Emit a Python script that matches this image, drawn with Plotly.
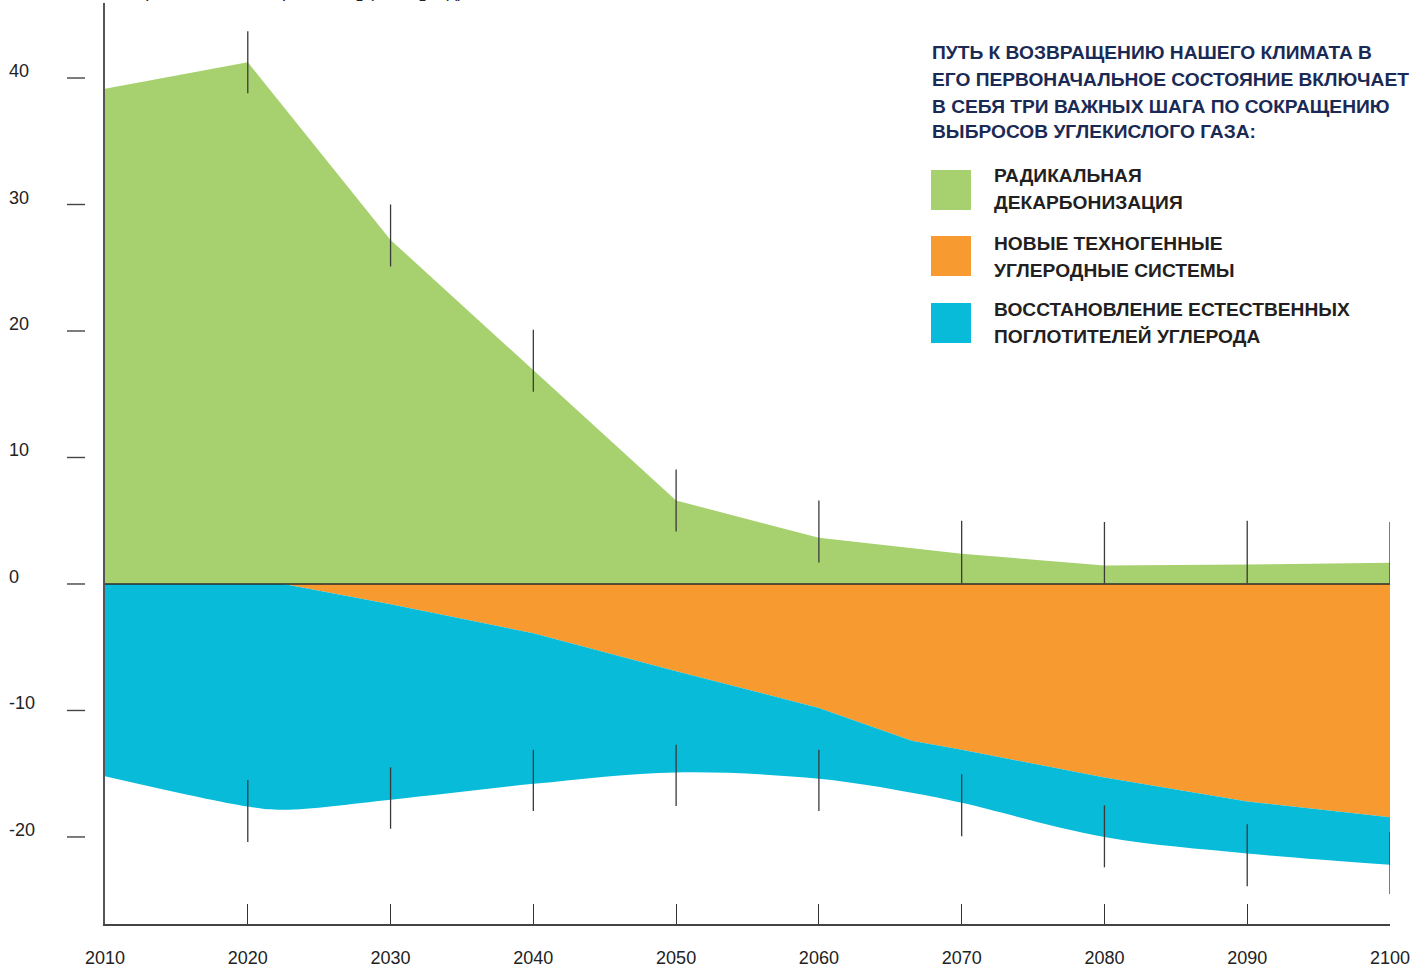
import plotly.graph_objects as go

# ---------------- data ----------------
years = [2010, 2020, 2030, 2040, 2050, 2060, 2070, 2080, 2090, 2100]
decarbonization = [39.15, 41.25, 27.2, 16.9, 6.6, 3.65, 2.4, 1.46, 1.54, 1.68]

sink_years = [2010, 2020, 2022.5, 2030, 2040, 2050, 2060, 2066.5, 2070, 2080, 2090, 2100]
tech_sinks = [0, 0, 0, 1.6, 3.9, 6.9, 9.8, 12.4, 13.1, 15.3, 17.2, 18.45]
natural_sinks = [15.2, 17.6, 17.85, 15.45, 11.9, 8.0, 5.6, 4.1, 4.2, 4.7, 4.1, 3.75]

range_years = [2020, 2030, 2040, 2050, 2060, 2070, 2080, 2090, 2100]
green_range_low = [38.8, 25.1, 15.2, 4.15, 1.7, 0.05, 0.05, 0.05, 0.05]
green_range_high = [43.7, 30.0, 20.1, 9.05, 6.6, 5.0, 4.9, 5.0, 4.9]
blue_range_high = [-15.5, -14.5, -13.1, -12.7, -13.1, -15.05, -17.5, -19.0, -19.6]
blue_range_low = [-20.4, -19.35, -17.95, -17.55, -17.95, -19.95, -22.4, -23.9, -24.5]

y_ticks = [-20, -10, 0, 10, 20, 30, 40]
x_tick_labels = [str(y) for y in years]

title_lines = [
    "ПУТЬ К ВОЗВРАЩЕНИЮ НАШЕГО КЛИМАТА В",
    "ЕГО ПЕРВОНАЧАЛЬНОЕ СОСТОЯНИЕ ВКЛЮЧАЕТ",
    "В СЕБЯ ТРИ ВАЖНЫХ ШАГА ПО СОКРАЩЕНИЮ",
    "ВЫБРОСОВ УГЛЕКИСЛОГО ГАЗА:",
]
legend_items = [
    ("РАДИКАЛЬНАЯ", "ДЕКАРБОНИЗАЦИЯ"),
    ("НОВЫЕ ТЕХНОГЕННЫЕ", "УГЛЕРОДНЫЕ СИСТЕМЫ"),
    ("ВОССТАНОВЛЕНИЕ ЕСТЕСТВЕННЫХ", "ПОГЛОТИТЕЛЕЙ УГЛЕРОДА"),
]

GREEN = "#A7D16E"
ORANGE = "#F79A2F"
BLUE = "#07BBD9"
NAVY = "#1B2A55"
DARK = "#231F20"
FONT = "Liberation Sans, Arial, sans-serif"

# ---------------- layout geometry ----------------
W, H = 1415, 965
ML, MR, MT, MB = 105, 25, 3, 41
PW, PH = W - ML - MR, H - MT - MB


def px(x):
    return (x - ML) / PW


def py(y):
    return (H - MB - y) / PH


tech_lower = [-v for v in tech_sinks]
natural_lower = [a - b for a, b in zip(tech_lower, natural_sinks)]

fig = go.Figure()
fig.add_trace(go.Scatter(x=years, y=decarbonization, mode="lines", fill="tozeroy",
                         fillcolor=GREEN, line=dict(width=0, color=GREEN),
                         hoverinfo="skip", showlegend=False))
fig.add_trace(go.Scatter(x=sink_years, y=tech_lower, mode="lines", fill="tozeroy",
                         fillcolor=ORANGE, line=dict(width=0, color=ORANGE),
                         hoverinfo="skip", showlegend=False))
fig.add_trace(go.Scatter(x=sink_years, y=natural_lower, mode="lines", fill="tonexty",
                         fillcolor=BLUE, line=dict(width=0, color=BLUE, shape="spline", smoothing=1.0),
                         hoverinfo="skip", showlegend=False))

# range markers
mx, my = [], []
for yr, lo, hi in zip(range_years, green_range_low, green_range_high):
    mx += [yr, yr, None]
    my += [lo, hi, None]
for yr, lo, hi in zip(range_years, blue_range_low, blue_range_high):
    mx += [yr, yr, None]
    my += [lo, hi, None]
fig.add_trace(go.Scatter(x=mx, y=my, mode="lines", line=dict(color="#3a3a3a", width=1.3),
                         hoverinfo="skip", showlegend=False, cliponaxis=False))

shapes = []
# zero line
shapes.append(dict(type="line", xref="x domain", yref="y", x0=0, x1=1, y0=0, y1=0,
                   line=dict(color="#2b2b2b", width=1.6)))
# detached y tick marks
for v in y_ticks:
    shapes.append(dict(type="line", xref="paper", yref="y", x0=px(67), x1=px(85), y0=v, y1=v,
                       line=dict(color="#444", width=1.4)))
# legend swatches
for (top, col) in zip([170, 236, 303], [GREEN, ORANGE, BLUE]):
    shapes.append(dict(type="rect", xref="paper", yref="paper", x0=px(931), x1=px(971),
                       y0=py(top + 40), y1=py(top), fillcolor=col, line=dict(width=0)))

annotations = []
for v in y_ticks:
    annotations.append(dict(xref="paper", yref="y", x=px(7), y=v, yshift=7, text=str(v),
                            xanchor="left", yanchor="middle", showarrow=False,
                            font=dict(family=FONT, size=18, color="#222")))
for line, yc in zip(title_lines, [52, 79, 106, 132]):
    annotations.append(dict(xref="paper", yref="paper", x=px(930), y=py(yc), text="<b>%s</b>" % line,
                            xanchor="left", yanchor="middle", showarrow=False,
                            font=dict(family=FONT, size=19.2, color=NAVY)))
for (l1, l2), (y1, y2) in zip(legend_items, [(176, 202), (243, 270), (309, 336)]):
    for t, yc in ((l1, y1), (l2, y2)):
        annotations.append(dict(xref="paper", yref="paper", x=px(992), y=py(yc), text="<b>%s</b>" % t,
                                xanchor="left", yanchor="middle", showarrow=False,
                                font=dict(family=FONT, size=19.2, color=DARK)))
# cut-off axis title at the very top
annotations.append(dict(xref="paper", yref="paper", x=px(8), y=py(6),
                        text="Глобальные антропогенные выбросы CO<sub>2</sub> (ГтCO<sub>2</sub>/год)",
                        xanchor="left", yanchor="bottom", showarrow=False,
                        font=dict(family=FONT, size=18, color="#222")))

fig.update_layout(
    width=W, height=H,
    margin=dict(l=ML, r=MR, t=MT, b=MB, pad=0, autoexpand=False),
    paper_bgcolor="white", plot_bgcolor="white",
    showlegend=False,
    shapes=shapes, annotations=annotations,
    xaxis=dict(range=[2010, 2100], showgrid=False, zeroline=False,
               showline=True, linecolor="#444", linewidth=1.5,
               tickmode="array", tickvals=years, ticktext=x_tick_labels,
               ticks="inside", ticklen=20, tickwidth=1.3, tickcolor="#333",
               ticklabelstandoff=17, automargin=False,
               tickfont=dict(family=FONT, size=18, color="#222"),
               layer="above traces", fixedrange=True),
    yaxis=dict(range=[-26.88, 45.93], showgrid=False, zeroline=False,
               showline=True, linecolor="#555", linewidth=1.6,
               showticklabels=False, ticks="", automargin=False,
               layer="above traces", fixedrange=True),
)

fig.write_html("out.html", config={"displayModeBar": False},
               post_script="document.body.style.margin='0';document.body.style.overflow='hidden';")
